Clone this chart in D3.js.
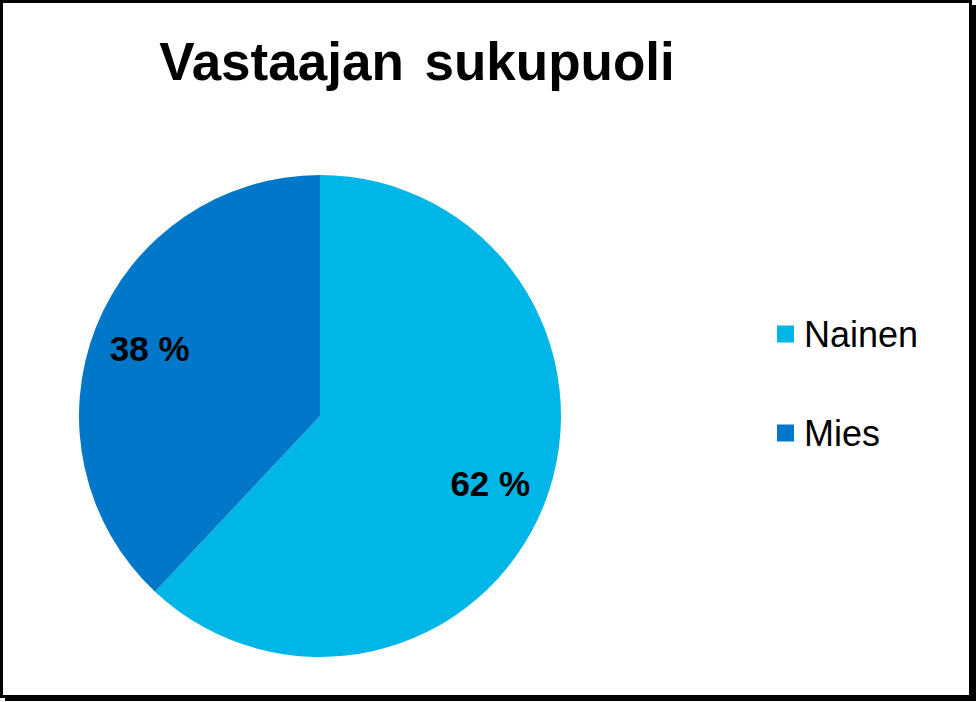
<!DOCTYPE html>
<html><head><meta charset="utf-8">
<script src="https://cdn.jsdelivr.net/npm/d3@7"></script>
<style>html,body{margin:0;padding:0;background:#fff;}svg{display:block;}</style>
</head><body>
<script>
const categories = ["Nainen", "Mies"];
const values = [62, 38];
const colors = ["#00B6E6", "#0077C8"];
const title = "Vastaajan sukupuoli";

const W = 977, H = 702;
const svg = d3.select("body").append("svg").attr("width", W).attr("height", H);
svg.append("rect").attr("width", W).attr("height", H).attr("fill", "#fff");

// frame with shadow on right/bottom
svg.append("rect").attr("x", 5).attr("y", 5).attr("width", 971).attr("height", 696).attr("fill", "#000");
svg.append("rect").attr("x", 1.5).attr("y", 1.5).attr("width", 969).attr("height", 695).attr("fill", "#fff").attr("stroke", "#000").attr("stroke-width", 3);

svg.append("text").attr("x", 417).attr("y", 80).attr("text-anchor", "middle")
  .attr("font-family", "Liberation Sans, Arial, sans-serif").attr("font-weight", "bold")
  .attr("font-size", 53).attr("word-spacing", 6).attr("fill", "#000").text(title);

const cx = 320, cy = 416, r = 241;
const pie = d3.pie().sort(null).value(d => d.v);
const data = pie(categories.map((c, i) => ({c, v: values[i], col: colors[i]})));
const arc = d3.arc().innerRadius(0).outerRadius(r);
const labelArc = d3.arc().innerRadius(r * 0.76).outerRadius(r * 0.76);
const g = svg.append("g").attr("transform", `translate(${cx},${cy})`);
g.selectAll("path").data(data).enter().append("path").attr("d", arc).attr("fill", d => d.data.col);
g.selectAll("text").data(data).enter().append("text")
  .attr("transform", d => `translate(${labelArc.centroid(d)})`)
  .attr("text-anchor", "middle").attr("dy", "0.36em")
  .attr("font-family", "Liberation Sans, Arial, sans-serif").attr("font-weight", "bold")
  .attr("font-size", 35).attr("fill", "#000")
  .text(d => d.data.v + " %");

const lg = svg.append("g");
const ly = d3.scalePoint().domain(categories).range([334, 433]);
categories.forEach((c, i) => {
  lg.append("rect").attr("x", 777).attr("y", ly(c) - 8.5).attr("width", 17).attr("height", 17).attr("fill", colors[i]);
  lg.append("text").attr("x", 804).attr("y", ly(c) + 13).attr("font-family", "Liberation Sans, Arial, sans-serif")
    .attr("font-size", 36).attr("fill", "#000").text(c);
});
</script>
</body></html>
